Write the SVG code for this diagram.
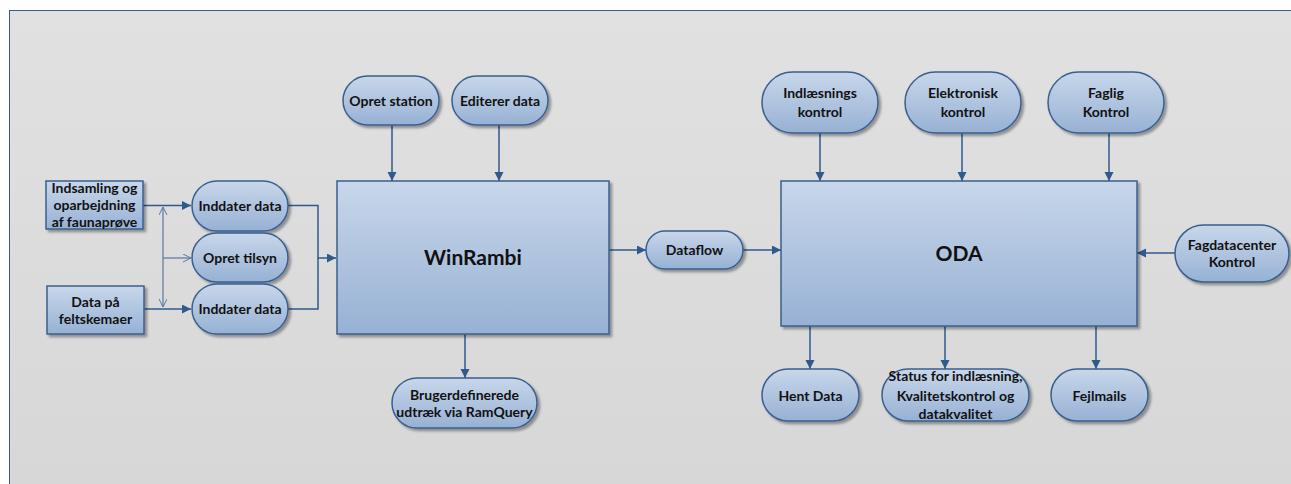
<svg xmlns="http://www.w3.org/2000/svg" width="1291" height="484" viewBox="0 0 1291 484">
  <defs>
    <linearGradient id="bg" x1="0" y1="0" x2="0" y2="1">
      <stop offset="0" stop-color="#e1e1e1"/>
      <stop offset="1" stop-color="#d7d7d7"/>
    </linearGradient>
    <linearGradient id="nodeFill" x1="0" y1="0" x2="0" y2="1">
      <stop offset="0" stop-color="#c8d7ea"/>
      <stop offset="1" stop-color="#97b1d4"/>
    </linearGradient>
    <filter id="shadow" x="-10%" y="-10%" width="130%" height="130%">
      <feDropShadow dx="2.5" dy="2.5" stdDeviation="1.2" flood-color="#000" flood-opacity="0.35"/>
    </filter>
    <marker id="arrow" markerUnits="userSpaceOnUse" markerWidth="10" markerHeight="10" refX="9" refY="4.5" orient="auto">
      <path d="M0,0 L9,4.5 L0,9 z" fill="#2f5a8e"/>
    </marker>
    <marker id="open" markerUnits="userSpaceOnUse" markerWidth="10" markerHeight="10" refX="8" refY="4" orient="auto-start-reverse">
      <path d="M0,0 L8,4 L0,8" fill="none" stroke="#5a78a0" stroke-width="1"/>
    </marker>
  </defs>
  <style>
    .node { fill: url(#nodeFill); stroke: #3a5f8f; stroke-width: 1.5; filter: url(#shadow); }
    .lbl { font-family: Lato, "Liberation Sans", sans-serif; font-weight: bold; font-size: 14px; fill: #111; text-anchor: middle; }
    .big { font-size: 21px; }
    .conn { fill: none; stroke: #2f5a8e; stroke-width: 1.5; }
    .thin { fill: none; stroke: #5a78a0; stroke-width: 1.2; }
  </style>

  <rect x="9.5" y="10.5" width="1290" height="480" fill="url(#bg)" stroke="#3a5a8a" stroke-width="1"/>

  <g id="connectors">
    <path class="conn" d="M143,205.5 H191" marker-end="url(#arrow)"/>
    <path class="conn" d="M144,309 H191" marker-end="url(#arrow)"/>
    <path class="thin" d="M163,207 V307" marker-start="url(#open)" marker-end="url(#open)"/>
    <path class="thin" d="M163,258 H191" marker-end="url(#open)"/>
    <path class="conn" d="M288,205.5 H318 V258 H336" marker-end="url(#arrow)"/>
    <path class="conn" d="M288,309 H318 V258"/>
    <path class="conn" d="M392,125 V181" marker-end="url(#arrow)"/>
    <path class="conn" d="M499,125 V181" marker-end="url(#arrow)"/>
    <path class="conn" d="M465,334 V378" marker-end="url(#arrow)"/>
    <path class="conn" d="M609,250 H646" marker-end="url(#arrow)"/>
    <path class="conn" d="M743,250 H781" marker-end="url(#arrow)"/>
    <path class="conn" d="M820,133 V181" marker-end="url(#arrow)"/>
    <path class="conn" d="M962,133 V181" marker-end="url(#arrow)"/>
    <path class="conn" d="M1109,133 V181" marker-end="url(#arrow)"/>
    <path class="conn" d="M1175,253 H1137" marker-end="url(#arrow)"/>
    <path class="conn" d="M810,326 V369" marker-end="url(#arrow)"/>
    <path class="conn" d="M945,326 V369" marker-end="url(#arrow)"/>
    <path class="conn" d="M1096,326 V369" marker-end="url(#arrow)"/>
  </g>

  <g id="indsamling">
    <rect class="node" x="46" y="181" width="97" height="48"/>
    <text class="lbl" x="94.5" y="193">Indsamling og</text>
    <text class="lbl" x="94.5" y="209.5">oparbejdning</text>
    <text class="lbl" x="94.5" y="226.5">af faunaprøve</text>
  </g>
  <g id="data-paa">
    <rect class="node" x="47" y="286" width="97" height="48"/>
    <text class="lbl" x="95.5" y="307">Data på</text>
    <text class="lbl" x="95.5" y="324">feltskemaer</text>
  </g>
  <g id="inddater1">
    <rect class="node" x="192" y="181" width="96" height="50" rx="25"/>
    <text class="lbl" x="240" y="211">Inddater data</text>
  </g>
  <g id="opret-tilsyn">
    <rect class="node" x="192" y="233" width="96" height="49" rx="24.5"/>
    <text class="lbl" x="240" y="262.5">Opret tilsyn</text>
  </g>
  <g id="inddater2">
    <rect class="node" x="192" y="284" width="96" height="50" rx="25"/>
    <text class="lbl" x="240" y="314">Inddater data</text>
  </g>
  <g id="opret-station">
    <rect class="node" x="343" y="76" width="96" height="49" rx="24.5"/>
    <text class="lbl" x="391" y="105.5">Opret station</text>
  </g>
  <g id="editerer">
    <rect class="node" x="452" y="76" width="96" height="49" rx="24.5"/>
    <text class="lbl" x="500" y="105.5">Editerer data</text>
  </g>
  <g id="winrambi">
    <rect class="node" x="337" y="181" width="272" height="153"/>
    <text class="lbl big" x="473" y="265">WinRambi</text>
  </g>
  <g id="brugerdef">
    <rect class="node" x="392" y="378" width="145" height="50" rx="25"/>
    <text class="lbl" x="464.5" y="400">Brugerdefinerede</text>
    <text class="lbl" x="464.5" y="416.5">udtræk via RamQuery</text>
  </g>
  <g id="dataflow">
    <rect class="node" x="646" y="231" width="97" height="38" rx="19"/>
    <text class="lbl" x="694.5" y="255">Dataflow</text>
  </g>
  <g id="oda">
    <rect class="node" x="781" y="181" width="356" height="145"/>
    <text class="lbl big" x="959" y="261">ODA</text>
  </g>
  <g id="indlaesning">
    <rect class="node" x="762" y="72" width="116" height="61" rx="30.5"/>
    <text class="lbl" x="820" y="98">Indlæsnings</text>
    <text class="lbl" x="820" y="117">kontrol</text>
  </g>
  <g id="elektronisk">
    <rect class="node" x="905" y="72" width="116" height="61" rx="30.5"/>
    <text class="lbl" x="963" y="98">Elektronisk</text>
    <text class="lbl" x="963" y="117">kontrol</text>
  </g>
  <g id="faglig">
    <rect class="node" x="1048" y="72" width="116" height="61" rx="30.5"/>
    <text class="lbl" x="1106" y="98">Faglig</text>
    <text class="lbl" x="1106" y="117">Kontrol</text>
  </g>
  <g id="fagdatacenter">
    <rect class="node" x="1175" y="225" width="114" height="57" rx="28.5"/>
    <text class="lbl" x="1232" y="250">Fagdatacenter</text>
    <text class="lbl" x="1232" y="267">Kontrol</text>
  </g>
  <g id="hent-data">
    <rect class="node" x="762" y="369" width="97" height="52" rx="26"/>
    <text class="lbl" x="810.5" y="400.5">Hent Data</text>
  </g>
  <g id="status">
    <rect class="node" x="882" y="369" width="147" height="52" rx="26"/>
    <text class="lbl" x="955.5" y="381">Status for indlæsning,</text>
    <text class="lbl" x="955.5" y="400.5">Kvalitetskontrol og</text>
    <text class="lbl" x="955.5" y="419">datakvalitet</text>
  </g>
  <g id="fejlmails">
    <rect class="node" x="1051" y="369" width="97" height="52" rx="26"/>
    <text class="lbl" x="1099.5" y="400.5">Fejlmails</text>
  </g>
</svg>
